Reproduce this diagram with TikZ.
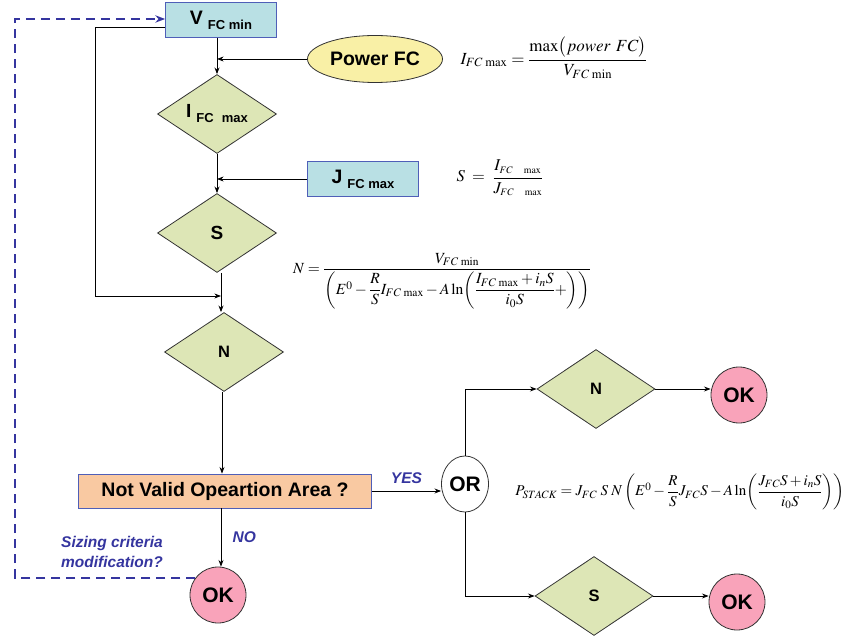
\documentclass[tikz,border=0pt]{standalone}
\usepackage{amsmath}
\usepackage{mathptmx}
\usepackage{fontspec}
\setsansfont{Liberation Sans}
\usetikzlibrary{arrows.meta,shapes.geometric}
\definecolor{boxcyan}{HTML}{B9E0E4}
\definecolor{boxline}{HTML}{4F5FB8}
\definecolor{diafill}{HTML}{DDE6B6}
\definecolor{ovalfill}{HTML}{F9F0A6}
\definecolor{peach}{HTML}{F9C9A2}
\definecolor{pinkok}{HTML}{F9A3BA}
\definecolor{noteblue}{HTML}{35359F}
\newcommand{\bigsub}[3]{{\fontsize{#1}{#1}\selectfont #2}\hspace{5pt}\raisebox{-5pt}{\fontsize{13}{13}\selectfont #3}}

\begin{document}
\begin{tikzpicture}[x=1pt, y=-1pt, >=Stealth, line width=0.8pt, font=\sffamily\bfseries,
  inbox/.style={draw=boxline, fill=boxcyan, minimum width=111, minimum height=35, inner sep=0pt},
  decision/.style={draw=black!80, diamond, fill=diafill, aspect=1.5, minimum width=119, minimum height=79, inner sep=0pt},
  okcircle/.style={draw=black!80, circle, fill=pinkok, minimum size=56, inner sep=0pt, font=\sffamily\bfseries\fontsize{21}{21}\selectfont},
  note/.style={text=noteblue, font=\sffamily\bfseries\itshape\fontsize{15.5}{20}\selectfont},
  formula/.style={font=\fontsize{16}{18}\selectfont, inner sep=0pt}]
\useasboundingbox (0,0) rectangle (846,636);
% inputs and sizing chain
\node[inbox] (vmin) at (221,20) {\bigsub{19.5}{V}{FC min}};
\node[draw=black!80, ellipse, fill=ovalfill, minimum width=135, minimum height=47, inner sep=0pt, font=\sffamily\bfseries\fontsize{19.5}{19.5}\selectfont] (power) at (375,59) {Power FC};
\node[decision] (idia) at (217,114) {\bigsub{19}{I}{FC\,\, max}};
\node[inbox, minimum width=111] (jmax) at (363,179) {\bigsub{19.5}{J}{FC max}};
\node[decision] (sdia) at (217,233) {\fontsize{19}{19}\selectfont S};
\node[decision] (ndia) at (224,352) {\fontsize{16.5}{16.5}\selectfont N};
\node[draw=boxline, fill=peach, minimum width=293, minimum height=34, inner sep=0pt, font=\sffamily\bfseries\fontsize{19.5}{19.5}\selectfont] (valid) at (225,491) {Not Valid Opeartion Area ?};
\node[okcircle] (okmain) at (218,595) {OK};
\node[draw=black!80, ellipse, fill=white, minimum width=47, minimum height=56, inner sep=0pt, font=\sffamily\bfseries\fontsize{21}{21}\selectfont] (orgate) at (465,484) {OR};
\node[decision, minimum width=118] (ntwo) at (596,389) {\fontsize{16.5}{16.5}\selectfont N};
\node[decision, minimum width=118] (stwo) at (594,596) {\fontsize{16.5}{16.5}\selectfont S};
\node[okcircle] (okn) at (739,395) {OK};
\node[okcircle] (oks) at (737,602) {OK};
% formulas
\node[formula, font=\fontsize{17}{19}\selectfont] (fimax) at (554,58) {$I_{FC\,\max}=\dfrac{\max\bigl(power\ FC\bigr)}{V_{FC\,\min}}$};
\node[formula, font=\fontsize{16.5}{19}\selectfont] (fs) at (500,178) {$S\;=\;\dfrac{I_{\scriptscriptstyle FC\ \ \max}}{J_{\scriptscriptstyle FC\ \ \max}}$};
\node[formula, font=\fontsize{15.5}{18}\selectfont] (fn) at (442,281) {$N=\dfrac{V_{FC\,\min}}{\left(E^0-\dfrac{R}{S}I_{FC\,\max}-A\ln\!\left(\dfrac{I_{FC\,\max}+i_nS}{i_0S}+\right)\right)}$};
\node[formula, font=\fontsize{15}{18}\selectfont] (fp) at (680,492) {$P_{STACK}=J_{FC}\;S\;N\left(E^0-\dfrac{R}{S}J_{FC}S-A\ln\!\left(\dfrac{J_{FC}S+i_nS}{i_0S}\right)\right)$};
% connectors
\coordinate (lc) at (95,296);
\coordinate (dc) at (15,19);
\draw[->] (idia.north |- vmin.south) -- (idia.north);
\draw[->] (power.west) -- (power.west -| idia.north);
\draw[->] (idia.south) -- (sdia.north);
\draw[->] (jmax.west) -- (jmax.west -| sdia.north);
\draw[->] ([xshift=4pt]sdia.south) -- ([xshift=4pt]sdia.south |- ndia.north);
\draw[->] ([yshift=-7pt]vmin.west) -| (lc) -- ([xshift=4pt]sdia.south |- lc);
\draw[->] ([xshift=-2pt]ndia.south) -- ([xshift=-2pt]valid.north -| ndia.south);
\draw[->] ([xshift=3pt]okmain.north |- valid.south) -- ([xshift=3pt]okmain.north) node[note, midway, right=8pt] {NO};
\draw[->] (valid.east) -- (valid.east -| orgate.west) node[note, midway, above=4pt] {YES};
\draw[->] (orgate.north) |- (ntwo.west);
\draw[->] (orgate.south) |- (stwo.west);
\draw[->] (ntwo.east) -- (ntwo.east -| okn.west);
\draw[->] (stwo.east) -- (stwo.east -| oks.west);
\draw[->, noteblue, line width=1.5pt, dash pattern=on 9pt off 6pt] (okmain.143) -| (dc) |- ([yshift=1pt]vmin.west);
\node[note, align=left] (sizing) at (112,552) {Sizing criteria\\modification?};
\end{tikzpicture}
\end{document}
